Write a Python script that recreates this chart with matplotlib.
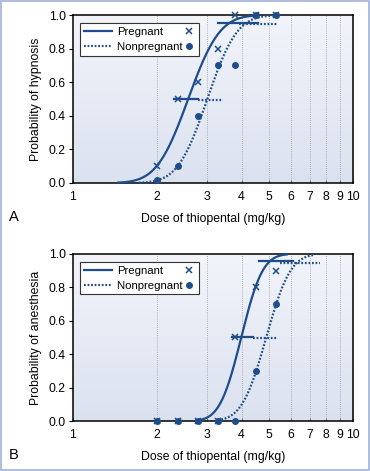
import math
import numpy as np
import matplotlib
matplotlib.use('Agg')
import matplotlib.pyplot as plt
from matplotlib.lines import Line2D
from matplotlib.patches import Rectangle

plt.rcParams['font.family'] = ['Liberation Sans', 'DejaVu Sans']

# doses (mg/kg) at which groups were tested
doses = [2.0, 2.38, 2.79, 3.29, 3.78, 4.49, 5.3]

# panel A - hypnosis
hyp_preg = [0.1, 0.5, 0.6, 0.8, 1.0, 1.0, 1.0]
hyp_nonpreg = [0.02, 0.1, 0.4, 0.7, 0.7, 1.0, 1.0]
# probit fits: ED50, sd of log10 dose, dose range drawn
hyp_fit_preg = dict(ed50=2.58, sd=0.088, lo=1.45, hi=4.55)
hyp_fit_nonpreg = dict(ed50=3.02, sd=0.083, lo=1.72, hi=5.32)
# ED50 / ED95 intervals (level, low, high)
hyp_ci_preg = [(0.5, 2.29, 2.79), (0.955, 3.30, 4.58)]
hyp_ci_nonpreg = [(0.495, 2.79, 3.43), (0.945, 3.92, 5.35)]

# panel B - anesthesia
ane_preg = [0.0, 0.0, 0.0, 0.0, 0.5, 0.8, 0.9]
ane_nonpreg = [0.0, 0.0, 0.0, 0.0, 0.0, 0.3, 0.7]
ane_fit_preg = dict(ed50=3.99, sd=0.060, lo=2.76, hi=5.8)
ane_fit_nonpreg = dict(ed50=4.9, sd=0.068, lo=3.29, hi=7.2)
ane_ci_preg = [(0.5, 3.70, 4.39), (0.955, 4.62, 6.10)]
ane_ci_nonpreg = [(0.495, 4.39, 5.35), (0.945, 5.47, 7.64)]

labels = ['Pregnant', 'Nonpregnant']

navy = '#1f4d8c'
dotted = (0, (0.8, 0.8))
fs = 8.8
fs_leg = 8.2


def probit(fit):
    x = np.logspace(np.log10(fit['lo']), np.log10(fit['hi']), 200)
    z = (np.log10(x) - np.log10(fit['ed50'])) / fit['sd']
    y = np.array([0.5 * (1 + math.erf(v / math.sqrt(2))) for v in z])
    return x, y


def panel(ax, preg, nonpreg, fit_p, fit_np, ci_p, ci_np, ylabel, letter):
    # soft gradient background, lighter at top
    grad = np.linspace(0, 1, 256).reshape(-1, 1)
    cmap = matplotlib.colors.LinearSegmentedColormap.from_list('bg', ['#f2f4fa', '#dbe2ef'])
    ax.imshow(grad, aspect='auto', cmap=cmap, extent=(0, 1, 0, 1),
              transform=ax.transAxes, zorder=0)
    ax.set_xscale('log')
    ax.set_xlim(1, 10)
    ax.set_ylim(0, 1)
    for g in range(2, 10):
        ax.axvline(g, color='#9a9a9a', lw=0.6, ls=(0, (1, 1.5)), zorder=1)

    x, y = probit(fit_p)
    ax.plot(x, y, color=navy, lw=1.6, zorder=3, clip_on=False)
    x, y = probit(fit_np)
    ax.plot(x, y, color=navy, lw=1.6, ls=dotted, zorder=3, clip_on=False)
    for lev, a, b in ci_p:
        ax.plot([a, b], [lev, lev], color=navy, lw=1.6, zorder=3)
    for lev, a, b in ci_np:
        ax.plot([a, b], [lev, lev], color=navy, lw=1.6, ls=dotted, zorder=3)

    ax.plot(doses, nonpreg, 'o', color=navy, ms=4, zorder=4, clip_on=False)
    ax.plot(doses, preg, 'x', color=navy, ms=5, mew=1.1, zorder=5, clip_on=False)

    ax.set_xticks([1, 2, 3, 4, 5, 6, 7, 8, 9, 10])
    ax.set_xticklabels(['1', '2', '3', '4', '5', '6', '7', '8', '9', '10'])
    ax.xaxis.set_minor_locator(matplotlib.ticker.NullLocator())
    ax.set_yticks([0, 0.2, 0.4, 0.6, 0.8, 1.0])
    ax.set_yticklabels(['0.0', '0.2', '0.4', '0.6', '0.8', '1.0'])
    ax.tick_params(axis='x', direction='in', length=2, color='#777777', pad=6, labelsize=fs)
    ax.tick_params(axis='y', length=3, width=0.8, pad=2, labelsize=fs)
    for s in ax.spines.values():
        s.set_linewidth(1.1)
    ax.set_ylabel(ylabel, fontsize=fs, labelpad=5)
    ax.set_xlabel('Dose of thiopental (mg/kg)', fontsize=fs, labelpad=7)

    # legend: lines + labels, markers in a second column on the right
    h1 = [Line2D([], [], color=navy, lw=1.6),
          Line2D([], [], color=navy, lw=1.6, ls=dotted)]
    leg = ax.legend(h1, [labels[0], labels[1] + '    '], loc='upper left',
                    bbox_to_anchor=(0.025, 0.952), borderaxespad=0, fontsize=fs_leg,
                    handlelength=2.45, handletextpad=0.5, labelspacing=0.42,
                    borderpad=0.34, fancybox=False, framealpha=1,
                    edgecolor='#333333')
    leg.get_frame().set_linewidth(0.8)
    ax.add_artist(leg)
    h2 = [Line2D([], [], color=navy, marker='x', ls='none', ms=5, mew=1.1),
          Line2D([], [], color=navy, marker='o', ls='none', ms=4)]
    leg2 = ax.legend(h2, labels, loc='upper left', bbox_to_anchor=(0.389, 0.952),
                     borderaxespad=0, fontsize=fs_leg, handlelength=0.6, handletextpad=0,
                     labelspacing=0.42, borderpad=0.34, frameon=False)
    for t in leg2.get_texts():
        t.set_color('none')
    leg2.set_zorder(6)
    ax.text(-0.21, -0.205, letter, transform=ax.transAxes, fontsize=10.5,
            ha='center', va='center')


fig = plt.figure(figsize=(3.7, 4.71), dpi=100)
axA = fig.add_axes([0.197, 0.6115, 0.757, 0.3565])
axB = fig.add_axes([0.197, 0.106, 0.757, 0.355])
panel(axA, hyp_preg, hyp_nonpreg, hyp_fit_preg, hyp_fit_nonpreg,
      hyp_ci_preg, hyp_ci_nonpreg, 'Probability of hypnosis', 'A')
panel(axB, ane_preg, ane_nonpreg, ane_fit_preg, ane_fit_nonpreg,
      ane_ci_preg, ane_ci_nonpreg, 'Probability of anesthesia', 'B')

# thin blue frame round the figure
fig.patches.append(Rectangle((0.002, 0.002), 0.996, 0.996, transform=fig.transFigure,
                             fill=False, edgecolor='#9fb2da', lw=1.2))

fig.savefig('out.png', dpi=100)
